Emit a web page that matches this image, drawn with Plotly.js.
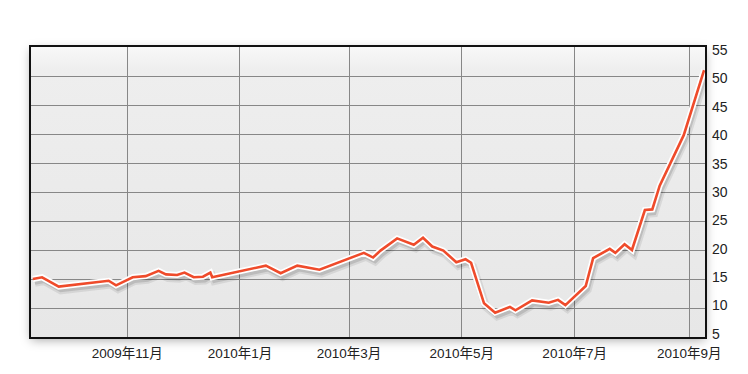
<!DOCTYPE html>
<html>
<head>
<meta charset="utf-8">
<script src="https://cdn.plot.ly/plotly-3.0.1.min.js"></script>
<style>
  html, body { margin: 0; padding: 0; background: #ffffff; }
  #wrap { position: relative; width: 748px; height: 374px; }
  #bg { position: absolute; left: 31px; top: 47px; width: 674px; height: 290px;
        background: linear-gradient(#f8f8f8 0%, #eeeeee 8%, #e7e7e7 100%);
        box-shadow: 0 3px 10px rgba(0,0,0,0.35); }
  #chart { position: absolute; left: 0; top: 0; width: 748px; height: 374px; }
</style>
</head>
<body>
<div id="wrap"><div id="bg"></div><div id="chart"></div></div>
<script>
const dates = ['2009-09-11','2009-09-16','2009-09-25','2009-10-22','2009-10-26',
  '2009-11-04','2009-11-11','2009-11-18','2009-11-22','2009-11-28',
  '2009-12-02','2009-12-07','2009-12-12','2009-12-16','2009-12-17',
  '2010-01-15','2010-01-23','2010-02-01','2010-02-13','2010-03-09',
  '2010-03-14','2010-03-18','2010-03-27','2010-04-05','2010-04-10',
  '2010-04-15','2010-04-21','2010-04-28','2010-05-03','2010-05-06',
  '2010-05-13','2010-05-19','2010-05-27','2010-05-30','2010-06-08',
  '2010-06-17','2010-06-22','2010-06-26','2010-07-07','2010-07-11',
  '2010-07-20','2010-07-23','2010-07-28','2010-08-01','2010-08-08',
  '2010-08-12','2010-08-16','2010-08-29','2010-09-09'];
const values = [15.0,15.3,13.7,14.7,13.9,
  15.3,15.5,16.4,15.8,15.7,
  16.1,15.3,15.4,16.1,15.3,
  17.3,16.0,17.3,16.6,19.5,
  18.7,19.9,22.0,20.9,22.1,
  20.6,19.9,17.9,18.4,17.8,
  10.8,9.2,10.2,9.6,11.3,
  10.9,11.4,10.5,13.8,18.6,
  20.2,19.5,21.0,20.0,26.9,
  27.0,31.1,39.8,51.0];
const xTickVals = ['2009-11-01','2010-01-01','2010-03-01','2010-05-01','2010-07-01','2010-09-01'];
const xTickText = ['2009年11月','2010年1月','2010年3月','2010年5月','2010年7月','2010年9月'];
const yTickVals = [5,10,15,20,25,30,35,40,45,50,55];

const xRange = ['2009-09-10', '2010-09-09 12:00'];
const yRange = [5, 55];
const yLabelRange = [4.47, 55.53];   // labels sit slightly inside the end gridlines, as in the reference
const DAY = 86400000;
const shiftX = 1.1 * DAY;   // shadow offset (style only)
const shiftY = 0.65;
const xr0 = new Date(xRange[0] + 'T00:00:00Z').getTime();
const xr1 = new Date('2010-09-09T12:00:00Z').getTime();
function iso(t){ return new Date(t).toISOString().replace('T',' ').replace('Z','').slice(0,19); }

const fontFam = '"Liberation Sans", Arial, "Noto Sans CJK JP", sans-serif';

const traces = [
  { x: dates, y: values, xaxis: 'x', yaxis: 'y', mode: 'lines', hoverinfo: 'skip',
    line: { color: 'rgba(0,0,0,0)', width: 1 } },
  { x: dates, y: values, xaxis: 'x3', yaxis: 'y4', mode: 'lines', hoverinfo: 'skip',
    line: { color: 'rgba(0,0,0,0)', width: 1 } },
  { x: dates, y: values, xaxis: 'x2', yaxis: 'y2', mode: 'lines', hoverinfo: 'skip',
    line: { color: 'rgba(0,0,0,0.08)', width: 8, shape: 'linear' } },
  { x: dates, y: values, xaxis: 'x2', yaxis: 'y2', mode: 'lines', hoverinfo: 'skip',
    line: { color: 'rgba(0,0,0,0.12)', width: 4, shape: 'linear' } },
  { x: dates, y: values, xaxis: 'x3', yaxis: 'y3', mode: 'lines', hoverinfo: 'skip',
    line: { color: '#ffffff', width: 6 } },
  { x: dates, y: values, xaxis: 'x3', yaxis: 'y3', mode: 'lines',
    line: { color: '#ef4b2b', width: 2.6 } }
];

const hidden = { visible: true, showgrid: false, zeroline: false, showticklabels: false, showline: false, ticks: '' };

const layout = {
  width: 748, height: 374,
  margin: { l: 31, r: 43, t: 47, b: 37, pad: 0 },
  paper_bgcolor: 'rgba(0,0,0,0)',
  plot_bgcolor: 'rgba(0,0,0,0)',
  showlegend: false,
  font: { family: fontFam, color: '#222222', size: 13 },
  xaxis: {
    type: 'date', range: xRange, tickmode: 'array', tickvals: xTickVals, ticktext: xTickText,
    showgrid: true, gridcolor: '#878787', gridwidth: 1, zeroline: false,
    showline: true, linecolor: '#111111', linewidth: 2, mirror: true, ticks: '',
    ticklabelstandoff: 3,
    tickfont: { size: 13.5, color: '#222222' }
  },
  yaxis: {
    range: yRange, side: 'right', tickmode: 'array', tickvals: yTickVals,
    showgrid: true, gridcolor: '#878787', gridwidth: 1, zeroline: false,
    showline: true, linecolor: '#111111', linewidth: 2, mirror: true, ticks: '',
    showticklabels: false
  },
  yaxis4: {
    overlaying: 'y', range: yLabelRange, side: 'right', tickmode: 'array', tickvals: yTickVals,
    showgrid: false, zeroline: false, showline: false, ticks: '',
    ticklabelstandoff: 6,
    tickfont: { size: 14, color: '#222222' }
  },
  xaxis2: Object.assign({ type: 'date', overlaying: 'x', range: [iso(xr0 - shiftX), iso(xr1 - shiftX)] }, hidden),
  yaxis2: Object.assign({ overlaying: 'y', range: [yRange[0] + shiftY, yRange[1] + shiftY] }, hidden),
  xaxis3: Object.assign({ type: 'date', overlaying: 'x', range: xRange }, hidden),
  yaxis3: Object.assign({ overlaying: 'y', range: yRange }, hidden)
};

Plotly.newPlot('chart', traces, layout, { displayModeBar: false, staticPlot: true });
</script>
</body>
</html>
